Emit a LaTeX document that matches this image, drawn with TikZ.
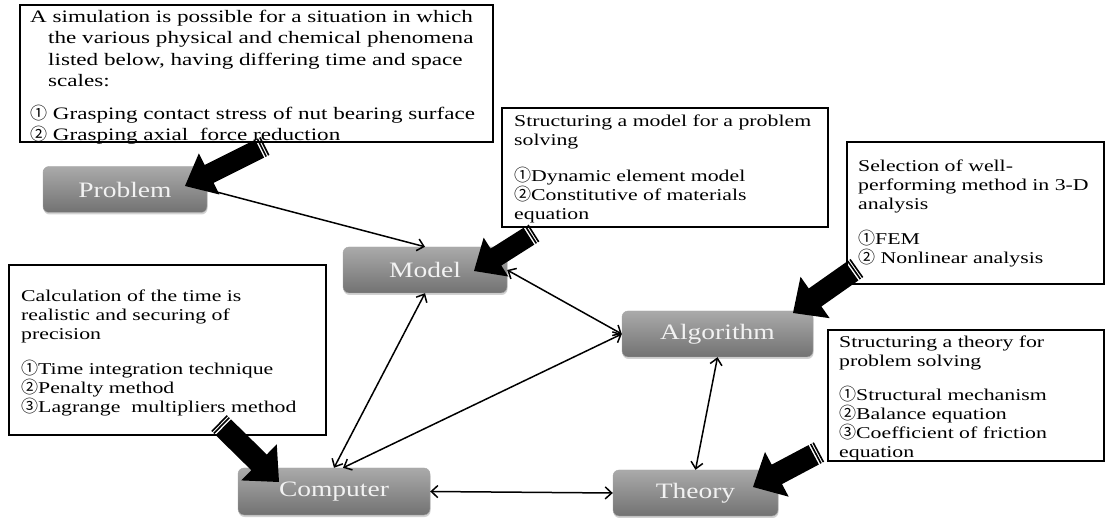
\documentclass[tikz,border=0pt]{standalone}
\usepackage{fontspec}
\setmainfont{Liberation Serif}
\newfontfamily\boxfont[FakeStretch=1.32]{Liberation Serif}
\newfontfamily\labfont[FakeStretch=1.25]{Liberation Serif}
\newfontfamily\cjkfont{Noto Sans CJK JP}
\usetikzlibrary{calc,arrows.meta,shadows}
\newcommand{\cn}[1]{{\cjkfont\fontsize{17}{19}\selectfont #1}}
\definecolor{gtop}{RGB}{170,170,170}
\definecolor{gbot}{RGB}{114,114,114}
\definecolor{labtext}{RGB}{242,242,242}
% striped block arrow: #1 tail, #2 tip, #3 name prefix, #4 shaft half-width, #5 head length
\newcommand{\stripedarrow}[5]{%
  \coordinate (#3s) at ($(#1)!6pt!(#2)$);
  \coordinate (#3h) at ($(#2)!#5!(#1)$);
  \coordinate (#3a) at ($(#1)!0.8pt!(#2)$);
  \coordinate (#3b) at ($(#1)!3.6pt!(#2)$);
  \fill[black] ($(#3s)!#4!90:(#2)$) -- ($(#3h)!#4!90:(#2)$) -- ($(#3h)!2.3*#4!90:(#2)$)
     -- (#2) -- ($(#3h)!2.3*#4!-90:(#2)$) -- ($(#3h)!#4!-90:(#2)$) -- ($(#3s)!#4!-90:(#2)$) -- cycle;
  \draw[black, line width=1.6pt] ($(#3a)!#4!90:(#2)$) -- ($(#3a)!#4!-90:(#2)$);
  \draw[black, line width=1.6pt] ($(#3b)!#4!90:(#2)$) -- ($(#3b)!#4!-90:(#2)$);
}
\tikzset{
  gnode/.style={rounded corners=6pt, top color=gtop, bottom color=gbot, draw=gray!70,
    minimum height=46pt, inner sep=0pt, text=labtext,
    font=\labfont\fontsize{22}{26}\selectfont,
    drop shadow={opacity=0.35, shadow xshift=0.5pt, shadow yshift=-2pt}},
  infobox/.style={draw=black, line width=1.6pt, inner sep=0pt},
  txt/.style={anchor=base west, align=left, inner sep=0pt, font=\boxfont\fontsize{16.5}{19}\selectfont},
  link/.style={line width=1.5pt, -{Straight Barb[length=6.5pt,width=12pt,line width=1.5pt]}},
  biglink/.style={line width=1.5pt, {Straight Barb[length=6.5pt,width=12pt,line width=1.5pt]}-{Straight Barb[length=6.5pt,width=12pt,line width=1.5pt]}}
}
\begin{document}
\begin{tikzpicture}[x=1pt,y=-1pt]
\useasboundingbox (0,0) rectangle (1109,518);
\fill[white] (0,0) rectangle (1109,518);

% info boxes
\node[infobox, minimum width=473pt, minimum height=137pt] (b1) at (256.5,73.5) {};
\node[infobox, minimum width=326pt, minimum height=119pt] (b2) at (665,167.5) {};
\node[infobox, minimum width=257pt, minimum height=142pt] (b3) at (975.5,213) {};
\node[infobox, minimum width=276pt, minimum height=131pt] (b4) at (966,395.5) {};
\node[infobox, minimum width=317pt, minimum height=170pt] (b5) at (167.5,350) {};

% texts (anchor = baseline of the last line)
\node[txt, font=\boxfont\fontsize{17.5}{21.5}\selectfont] (t1) at (30,141) {A simulation is possible for a situation in which\\
\hspace*{18pt}the various physical and chemical phenomena\\
\hspace*{18pt}listed below, having differing time and space\\
\hspace*{18pt}scales:\\[11pt]
\cn{①} Grasping contact stress of nut bearing surface\\
\cn{②} Grasping axial\ \ force reduction};

\node[txt] (t2) at (514,220) {Structuring a model for a problem\\
solving\\[17pt]
\cn{①}Dynamic element model\\
\cn{②}Constitutive of materials\\
equation};

\node[txt] (t3) at (858,264) {Selection of well-\\
performing method in 3-D\\
analysis\\[16pt]
\cn{①}FEM\\
\cn{②} Nonlinear analysis};

\node[txt] (t4) at (839,458) {Structuring a theory for\\
problem solving\\[16pt]
\cn{①}Structural mechanism\\
\cn{②}Balance equation\\
\cn{③}Coefficient of friction\\
equation};

\node[txt] (t5) at (21,413) {Calculation of the time is\\
realistic and securing of\\
precision\\[16pt]
\cn{①}Time integration technique\\
\cn{②}Penalty method\\
\cn{③}Lagrange\ \ multipliers method};

% process nodes
\node[gnode, minimum width=164pt] (problem) at (125,189.5) {Problem};
\node[gnode, minimum width=164pt] (model) at (425,270) {Model};
\node[gnode, minimum width=191pt] (algo) at (717.5,334) {Algorithm};
\node[gnode, minimum width=192pt, minimum height=47pt] (computer) at (334,491.5) {Computer};
\node[gnode, minimum width=165pt] (theory) at (695.5,493) {Theory};

% thin connectors
\draw[link] (problem.east) -- (model.north);
\draw[biglink] (model.south) -- (computer.north);
\draw[biglink] (model.east) -- (algo.west);
\draw[biglink] ([xshift=9pt]computer.north) -- (algo.west);
\draw[biglink] (algo.south) -- (theory.north);
\draw[biglink] (computer.east) -- (theory.west);

% striped block arrows
\coordinate (aT) at (265,146); \coordinate (aP) at (185,186);
\coordinate (bT) at (534,233); \coordinate (bP) at (474,271);
\coordinate (cT) at (857,268); \coordinate (cP) at (793,313);
\coordinate (dT) at (819,452); \coordinate (dP) at (753,487);
\coordinate (eT) at (219,423); \coordinate (eP) at (279,482);
\stripedarrow{aT}{aP}{A}{10pt}{27pt}
\stripedarrow{bT}{bP}{B}{10pt}{26pt}
\stripedarrow{cT}{cP}{C}{11pt}{27pt}
\stripedarrow{dT}{dP}{D}{11pt}{27pt}
\stripedarrow{eT}{eP}{E}{11pt}{28pt}
\end{tikzpicture}
\end{document}
